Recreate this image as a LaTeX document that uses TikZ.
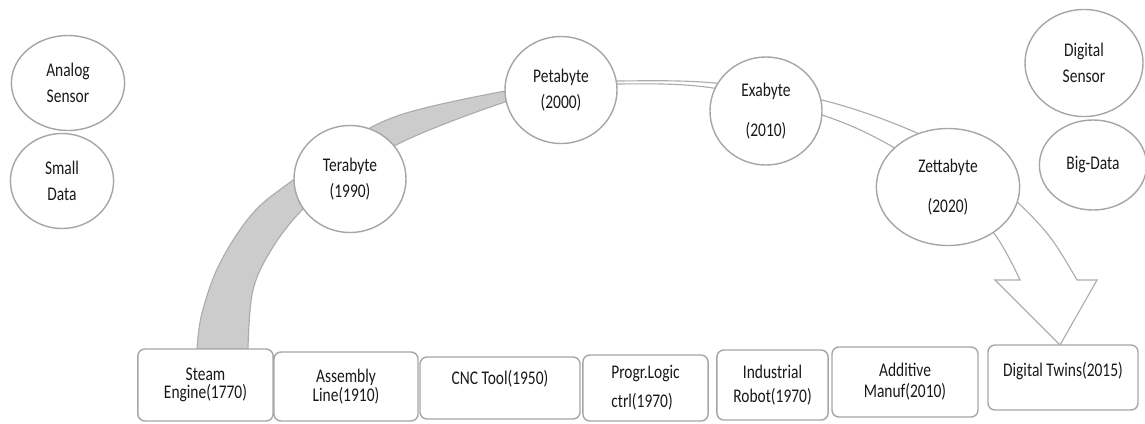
\documentclass[tikz,border=0pt]{standalone}
\usepackage{fontspec}
\setmainfont{Carlito}
\usetikzlibrary{shapes.geometric}

\begin{document}
\begin{tikzpicture}[x=0.025cm,y=-0.025cm,line width=1pt,
    data node/.style={ellipse,draw=gray!70,fill=white,inner sep=0pt,align=center,text=black!90,font=\fontsize{11}{14.8}\selectfont,yscale=1.25,transform shape},
    tech node/.style={rectangle,rounded corners=5pt,draw=gray!70,fill=white,inner sep=0pt,align=center,text=black!90,font=\fontsize{11}{10.5}\selectfont,yscale=1.25,transform shape}]

            \useasboundingbox (0,0) rectangle (1145,423);

            % big curved arrow, grey on the left part
            \path[draw=gray!65,line width=0.8pt,fill=white,path picture={\fill[gray!40] (0,0) rectangle (561,423);}]
                plot[smooth,tension=0.6] coordinates {(197,349) (202,313) (220,263) (253,213) (293,180) (340,146) (400,115) (505,91) (561,84) (617,81) (715,83) (822,100) (917,133) (975,168) (1015,200) (1050,237) (1077,280)}
                -- (1097,280) -- (1060,345) -- (995,280) --
                plot[smooth,tension=0.6] coordinates {(1020,280) (993,232) (945,185) (893,147) (822,115) (713,88) (617,84) (561,89) (505,102) (400,143) (330,188) (302,210) (273,247) (253,290) (248,349)}
                -- cycle;

            \node[data node,minimum width=2.83cm,minimum height=1.9cm] (6) at (68,83) {Analog\\Sensor};
            \node[data node,minimum width=2.58cm,minimum height=1.9cm] (7) at (62,181) {Small\\Data};
            \node[data node,minimum width=2.8cm,minimum height=2.14cm] (1) at (350,179) {Terabyte\\(1990)};
            \node[data node,minimum width=2.8cm,minimum height=2.14cm] (2) at (561,90) {Petabyte\\(2000)};
            \node[data node,minimum width=2.8cm,minimum height=2.16cm] (3) at (766,111) {Exabyte\\[8pt](2010)};
            \node[data node,minimum width=3.58cm,minimum height=2.34cm] (4) at (948,187) {Zettabyte\\[8pt](2020)};
            \node[data node,minimum width=2.95cm,minimum height=2.14cm] (8) at (1084,63) {Digital\\Sensor};
            \node[data node,minimum width=2.68cm,minimum height=1.8cm] (9) at (1093,165) {Big-Data};

            \node[tech node,minimum width=3.38cm,minimum height=1.44cm] (a) at (205.5,385) {Steam\\Engine(1770)};
            \node[tech node,minimum width=3.6cm,minimum height=1.38cm] (b) at (346,386.5) {Assembly\\Line(1910)};
            \node[tech node,minimum width=4cm,minimum height=1.24cm,text depth=0.42cm] (c) at (500,388) {CNC Tool(1950)};
            \node[tech node,minimum width=3.13cm,minimum height=1.32cm,align=left] (d) at (645.5,388) {Progr.Logic\\[6pt]ctrl(1970)};
            \node[tech node,minimum width=2.78cm,minimum height=1.4cm] (e) at (772.5,385) {Industrial\\[3pt]Robot(1970)};
            \node[tech node,minimum width=3.65cm,minimum height=1.4cm] (f) at (905,382) {Additive\\[1.5pt]Manuf(2010)};
            \node[tech node,minimum width=3.75cm,minimum height=1.3cm,text depth=0.31cm] (g) at (1063,377.5) {Digital Twins(2015)};
\end{tikzpicture}
\end{document}
